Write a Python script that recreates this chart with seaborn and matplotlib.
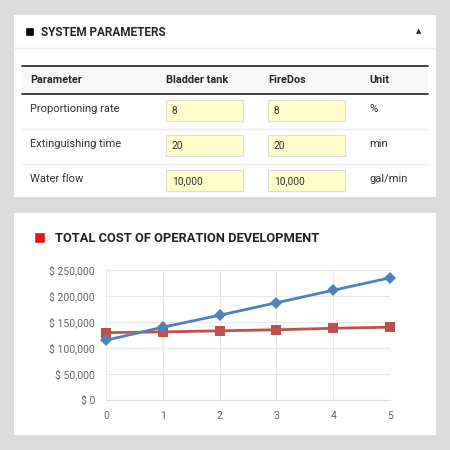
import matplotlib
matplotlib.use("Agg")
import matplotlib.pyplot as plt
import seaborn as sns
import pandas as pd
from matplotlib.patches import Rectangle
from matplotlib.ticker import FuncFormatter

params = ["Proportioning rate", "Extinguishing time", "Water flow"]
bladder_vals = ["8", "20", "10,000"]
firedos_vals = ["8", "20", "10,000"]
units = ["%", "min", "gal/min"]

years = [0, 1, 2, 3, 4, 5]
blue_cost = [115000, 140000, 163000, 187000, 211000, 235000]
red_cost = [129500, 131000, 133000, 135000, 138000, 140000]

sns.set_style("white")
plt.rcParams["font.family"] = ["Roboto", "DejaVu Sans"]

fig = plt.figure(figsize=(4.5, 4.5), dpi=100)
fig.patch.set_facecolor("#dcdcdc")

# page background drawn in pixel coordinates
bg = fig.add_axes([0, 0, 1, 1])
bg.set_xlim(0, 450)
bg.set_ylim(450, 0)
bg.axis("off")

bg.add_patch(Rectangle((14, 15), 422, 182, facecolor="white", edgecolor="none"))
bg.add_patch(Rectangle((14, 213), 422, 222, facecolor="white", edgecolor="none"))

# top panel header
bg.add_patch(Rectangle((25, 27), 9, 9, facecolor="black"))
bg.text(41, 32, "SYSTEM PARAMETERS", fontsize=8.5, fontweight="bold", va="center")
bg.text(419, 32, "▲", fontsize=5, va="center", ha="center")
bg.plot([14, 436], [48, 48], color="#eeeeee", lw=1)

# table
bg.add_patch(Rectangle((22, 66), 406, 28, facecolor="#f7f7f7", edgecolor="none"))
bg.plot([22, 428], [66, 66], color="#333333", lw=1.3)
bg.plot([22, 428], [94, 94], color="#333333", lw=1.3)
cols_x = [30, 166, 268, 369]
for x, h in zip(cols_x, ["Parameter", "Bladder tank", "FireDos", "Unit"]):
    bg.text(x, 80, h, fontsize=7.8, fontweight="bold", va="center")
rows_y = [110, 145, 180]
for i, y in enumerate(rows_y):
    bg.text(30, y - 1, params[i], fontsize=8, color="#333333", va="center")
    for bx, v in zip([166, 268], [bladder_vals[i], firedos_vals[i]]):
        bg.add_patch(Rectangle((bx, y - 10), 77, 21, facecolor="#ffffcc",
                               edgecolor="#dddddd", lw=0.8))
        bg.text(bx + 6, y + 1, v, fontsize=7.3, color="#333333", va="center")
    bg.text(369, y - 1, units[i], fontsize=8, color="#333333", va="center")
    if i < 2:
        bg.plot([22, 428], [y + 19, y + 19], color="#eeeeee", lw=1)

# bottom panel title
bg.add_patch(Rectangle((34, 232), 11, 11, facecolor="#ee1111"))
bg.text(55, 239, "TOTAL COST OF OPERATION DEVELOPMENT", fontsize=9.3,
        fontweight="bold", va="center", color="#222222")

# chart
ax = fig.add_axes([106 / 450, 1 - 400 / 450, 284 / 450, 130 / 450])
df = pd.DataFrame({"year": years, "blue": blue_cost, "red": red_cost})
sns.lineplot(data=df, x="year", y="red", ax=ax, color="#c0504d", lw=2,
             marker="s", markersize=7, markeredgewidth=0, zorder=3)
sns.lineplot(data=df, x="year", y="blue", ax=ax, color="#4f81bd", lw=2,
             marker="D", markersize=6, markeredgewidth=0, zorder=4)
ax.set_xlim(0, 5)
ax.set_ylim(0, 250000)
ax.set_xticks(years)
ax.set_yticks(range(0, 250001, 50000))
ax.yaxis.set_major_formatter(FuncFormatter(lambda v, p: f"$ {int(v):,}"))
ax.grid(True, color="#e8e8e8", lw=0.8)
ax.set_xlabel("")
ax.set_ylabel("")
for s in ["top", "right", "left"]:
    ax.spines[s].set_visible(False)
ax.spines["bottom"].set_color("#dddddd")
ax.tick_params(axis="both", labelsize=7.5, colors="#666666", length=0, pad=8)
for line in ax.lines:
    line.set_clip_on(False)

fig.savefig("out.png", dpi=100, facecolor=fig.get_facecolor())
